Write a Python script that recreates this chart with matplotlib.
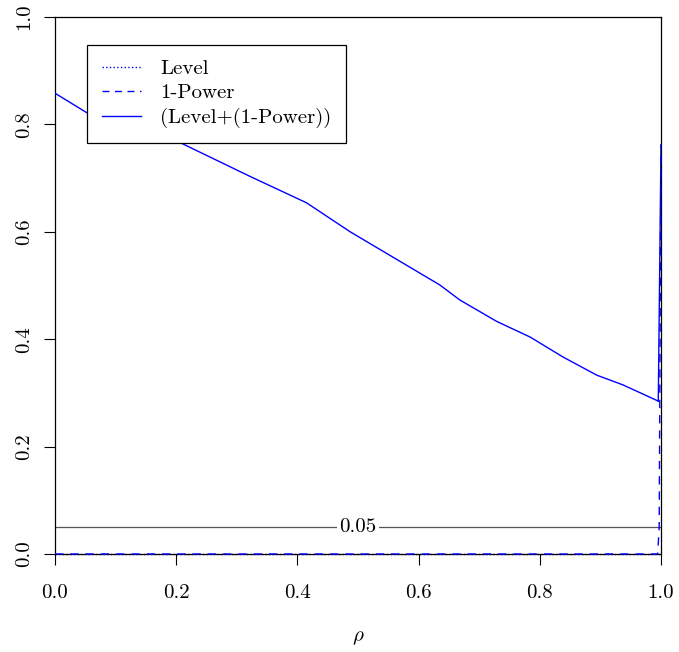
import matplotlib
matplotlib.use("Agg")
import matplotlib.pyplot as plt
from matplotlib.lines import Line2D
import numpy as np

plt.rcParams['font.family'] = 'cmr10'
plt.rcParams['mathtext.fontset'] = 'cm'
plt.rcParams['axes.formatter.use_mathtext'] = True

# values
rho = [0.0, 0.052, 0.201, 0.322, 0.415, 0.487, 0.635, 0.668, 0.729,
       0.784, 0.838, 0.894, 0.937, 0.993, 0.9955, 1.0]
total = [0.858, 0.822, 0.769, 0.703, 0.654, 0.600, 0.501, 0.473, 0.433,
         0.404, 0.367, 0.333, 0.315, 0.286, 0.284, 0.762]
rho_pow = [0.0, 0.9945, 0.997, 1.0]
one_minus_power = [0.0, 0.0, 0.05, 0.762]
rho_lvl = [0.0, 1.0]
level = [0.0, 0.0]
alpha = 0.05

fig = plt.figure(figsize=(6.79, 6.52), dpi=100)
ax = fig.add_axes([0.081, 0.1503, 0.8925, 0.8237])

ax.axhline(alpha, color='#555555', lw=0.9)
ax.text(0.5, alpha, '0.05', ha='center', va='center', fontsize=15,
        bbox=dict(facecolor='white', edgecolor='none', pad=1.5))

ax.plot(rho_lvl, level, color='black', ls=':', lw=1, zorder=3, clip_on=False)
ax.plot(rho_pow, one_minus_power, color='blue', ls=(0, (6, 5)), lw=1, zorder=3, clip_on=False)
ax.plot(rho, total, color='blue', ls='-', lw=1, zorder=3)

handles = [Line2D([], [], color='blue', ls=':', lw=1),
           Line2D([], [], color='blue', ls=(0, (5, 4)), lw=1),
           Line2D([], [], color='blue', ls='-', lw=1)]
labels = ['Level', '1-Power', '(Level+(1-Power))']
leg = ax.legend(handles, labels, loc='upper left', bbox_to_anchor=(0.053, 0.948),
                fontsize=15, fancybox=False, framealpha=1, edgecolor='black',
                handlelength=1.9, handletextpad=0.9, labelspacing=0.28,
                borderpad=0.7, borderaxespad=0)
leg.get_frame().set_linewidth(0.9)

ax.set_xlim(0, 1)
ax.set_ylim(0, 1)
ax.set_xticks([0.0, 0.2, 0.4, 0.6, 0.8, 1.0])
ax.set_yticks([0.0, 0.2, 0.4, 0.6, 0.8, 1.0])
ax.set_xticklabels(['0.0', '0.2', '0.4', '0.6', '0.8', '1.0'])
ax.set_yticklabels(['0.0', '0.2', '0.4', '0.6', '0.8', '1.0'], rotation=90, va='center')
ax.tick_params(direction='out', length=8, width=0.8, labelsize=15, pad=14)
ax.tick_params(axis='y', pad=8)
ax.set_xlabel(r'$\rho$', fontsize=15, labelpad=19)
for s in ax.spines.values():
    s.set_linewidth(0.9)

fig.savefig('out.png', dpi=100)
